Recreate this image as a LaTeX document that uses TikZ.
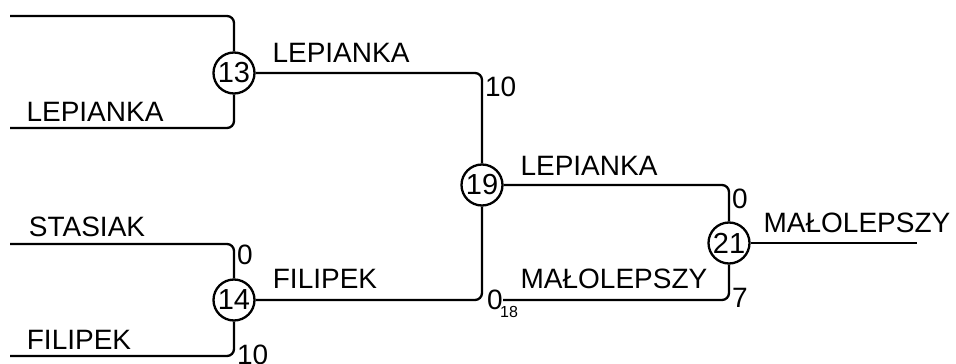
\documentclass[tikz,border=0pt]{standalone}
\usepackage{fontspec}
\setmainfont{Liberation Sans}
\begin{document}
\begin{tikzpicture}[x=1pt,y=-1pt,
  line width=2.3pt,
  seed/.style={circle,draw,fill=white,minimum size=41pt,inner sep=0pt,font=\fontsize{29}{31}\selectfont},
  team/.style={anchor=base,inner sep=0pt,font=\fontsize{28}{30}\selectfont},
  score/.style={anchor=west,inner sep=0pt,font=\fontsize{28}{30}\selectfont},
  tiny/.style={anchor=center,inner sep=0pt,font=\fontsize{16}{18}\selectfont},
  wire/.style={rounded corners=7pt}]
\useasboundingbox (0,0) rectangle (956,364);
% free ends
\coordinate (a1) at (10,16);
\coordinate (a2) at (10,128);
\coordinate (b1) at (10,244);
\coordinate (b2) at (10,356);
\coordinate (m1) at (503,300);
\coordinate (e1) at (917,243);
% circles
\node[seed] (c13) at (234,73) {13};
\node[seed] (c14) at (234,300) {14};
\node[seed] (c19) at (482,185) {19};
\node[seed] (c21) at (729,243) {21};
% connectors
\draw[wire] (a1) -| (c13);
\draw[wire] (a2) -| (c13);
\draw[wire] (b1) -| (c14);
\draw[wire] (b2) -| (c14);
\draw[wire] (c13) -| (c19);
\draw[wire] (c14) -| (c19);
\draw[wire] (c19) -| (c21);
\draw[wire] (m1) -| (c21);
\draw (c21) -- (e1);
% team labels
\node[team] (t1) at (341,62) {LEPIANKA};
\node[team] (t2) at (95,121) {LEPIANKA};
\node[team] (t3) at (87,236) {STASIAK};
\node[team] (t4) at (79,349) {FILIPEK};
\node[team] (t5) at (325,288) {FILIPEK};
\node[team] (t6) at (589,175) {LEPIANKA};
\node[team] (t7) at (614,288) {MAŁOLEPSZY};
\node[team] (t8) at (857,232) {MAŁOLEPSZY};
% scores
\node[score] (s1) at (484,87) {10};
\node[score] (s2) at (236,255) {0};
\node[score] (s3) at (236,355) {10};
\node[score] (s4) at (486,300) {0};
\node[tiny] (s5) at (509,312) {18};
\node[score] (s6) at (731,199) {0};
\node[score] (s7) at (731,298) {7};
\end{tikzpicture}
\end{document}
